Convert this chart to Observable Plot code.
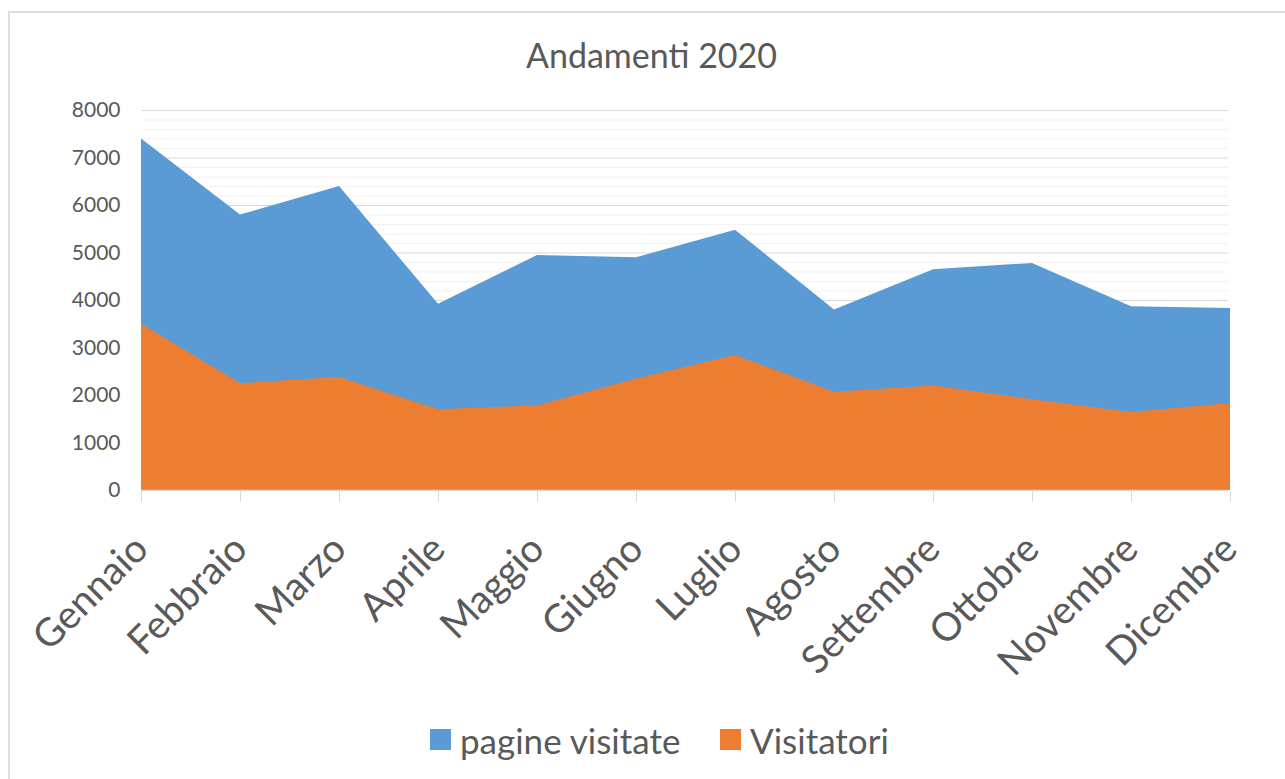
<!DOCTYPE html>
<html><head><meta charset="utf-8">
<script src="https://cdn.jsdelivr.net/npm/d3@7"></script>
<script src="https://cdn.jsdelivr.net/npm/@observablehq/plot@0.6"></script>
<style>
body{margin:0;background:#fff;font-family:Lato,"Open Sans",sans-serif;width:1285px;height:779px;position:relative;overflow:hidden;}
#frame{position:absolute;left:8px;top:11px;width:1300px;height:800px;border:2px solid #dedede;box-sizing:border-box;}
#title{position:absolute;left:0;top:35px;width:1303px;text-align:center;font-size:34px;color:#595959;line-height:40px;}
#chart{position:absolute;left:0;top:95px;}
#legend{position:absolute;left:0;top:718px;width:1285px;height:44px;font-size:35px;color:#595959;}
.sw{position:absolute;top:11px;width:21px;height:21px;}
.lt{position:absolute;top:0;line-height:44px;}
</style></head>
<body>
<div id="frame"></div>
<div id="title">Andamenti 2020</div>
<div id="chart"></div>
<div id="legend">
  <div class="sw" style="left:430px;background:#5B9BD5"></div><div class="lt" style="left:460px">pagine visitate</div>
  <div class="sw" style="left:720px;background:#ED7D31"></div><div class="lt" style="left:750px">Visitatori</div>
</div>
<script>
const months = ["Gennaio","Febbraio","Marzo","Aprile","Maggio","Giugno","Luglio","Agosto","Settembre","Ottobre","Novembre","Dicembre"];
const pagineVisitate = [7400,5800,6400,3920,4950,4900,5480,3800,4650,4780,3870,3830];
const visitatori = [3500,2250,2380,1700,1780,2350,2840,2070,2200,1910,1640,1830];
const yTicks = [0,1000,2000,3000,4000,5000,6000,7000,8000];
const minorTicks = d3.range(200,8000,200).filter(v => v % 1000 !== 0);

const data = months.map((m,i)=>({month:m, pagine:pagineVisitate[i], visitatori:visitatori[i]}));

const chart = Plot.plot({
  width:1285, height:600,
  marginLeft:142, marginRight:57, marginTop:15, marginBottom:205,
  style:{fontFamily:"Lato, 'Open Sans', sans-serif", background:"transparent", color:"#595959"},
  x:{type:"point", domain:months, padding:0, range:[138,1232], label:null},
  y:{domain:[0,8000], label:null},
  marks:[
    Plot.ruleY(minorTicks,{stroke:"#f2f2f2", strokeWidth:1}),
    Plot.ruleY(yTicks,{stroke:"#d9d9d9", strokeWidth:1}),
    Plot.areaY(data,{x:"month", y:"pagine", fill:"#5B9BD5", curve:"linear"}),
    Plot.areaY(data,{x:"month", y:"visitatori", fill:"#ED7D31", curve:"linear"}),
    Plot.ruleY([0],{stroke:"#d9d9d9", strokeWidth:1.5}),
    Plot.axisY({ticks:yTicks, tickSize:0, tickPadding:22, fontSize:21, fill:"#595959", label:null, tickFormat:d=>String(d)}),
    Plot.axisX({tickSize:12, stroke:"#d9d9d9", fill:"#595959", fontSize:39, tickRotate:-45, tickPadding:40, label:null})
  ]
});
document.getElementById("chart").appendChild(chart);
</script>
</body></html>
